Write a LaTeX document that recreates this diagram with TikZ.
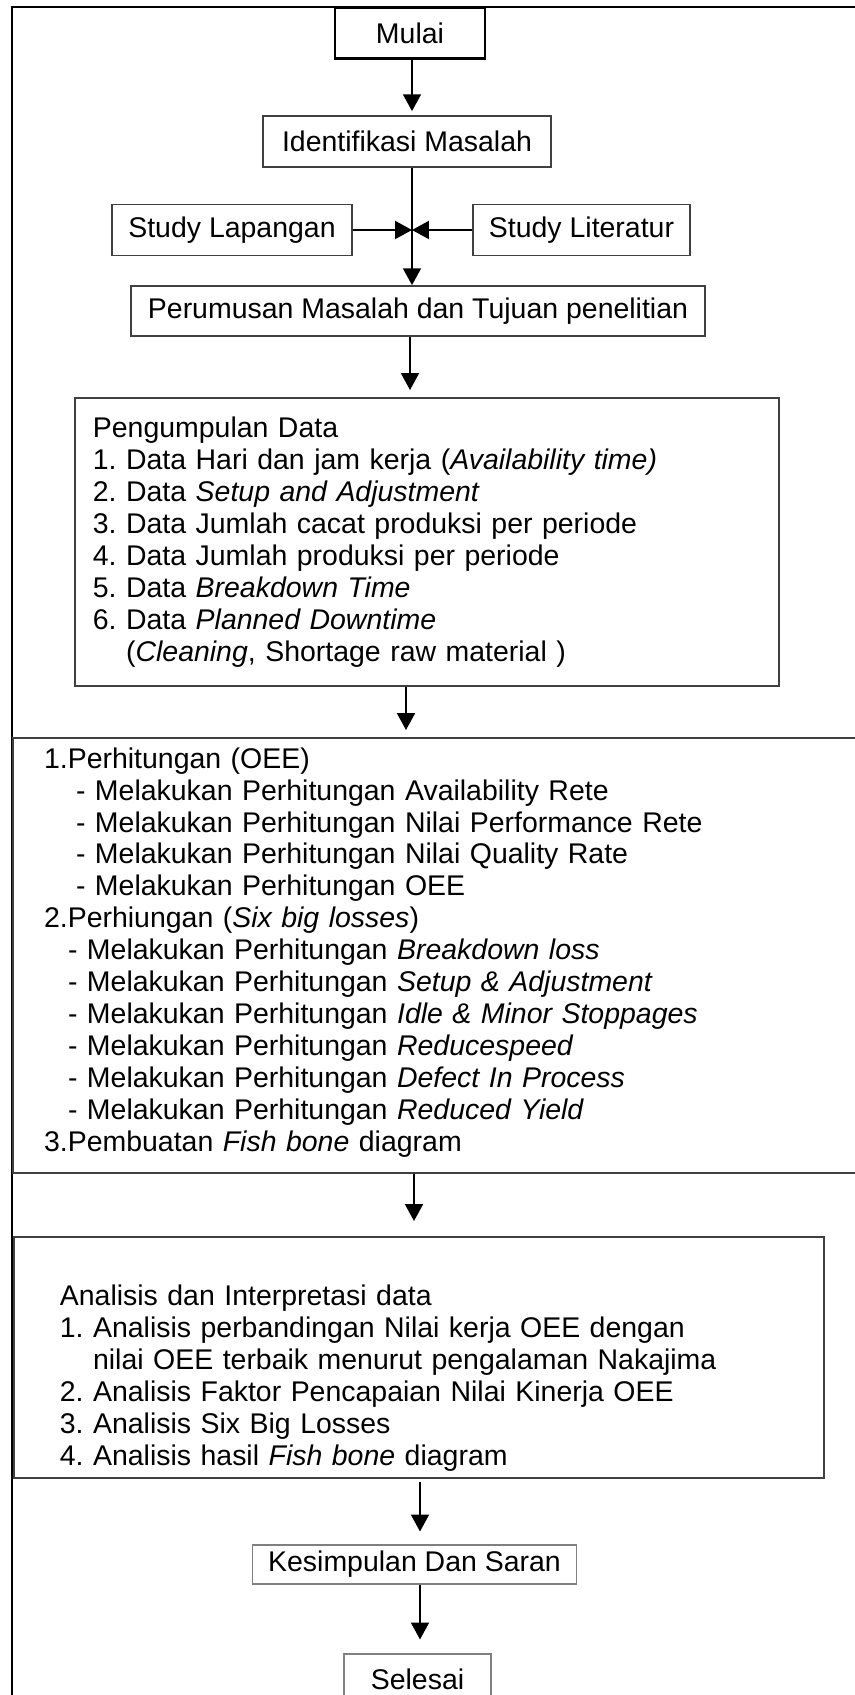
\documentclass[tikz,border=0pt]{standalone}
\usepackage{fontspec}
\setmainfont{Liberation Sans}
\usetikzlibrary{arrows.meta}
\frenchspacing

\begin{document}
\begin{tikzpicture}[
  x=0.02cm, y=-0.02cm,
  every node/.style={font=\fontsize{16.2}{18.2}\selectfont},
  box/.style={rectangle, draw=black!75, line width=1pt, inner sep=0pt},
  thinbox/.style={rectangle, draw=black!50, line width=0.6pt, inner sep=0pt},
  listbox/.style={rectangle, draw=black!75, line width=1pt, anchor=north west,
                  align=left, inner ysep=0pt},
  arrow/.style={-{Triangle[length=9.6pt, width=10.2pt]}, line width=1.1pt},
  frame/.style={line width=0.8pt}
]
\useasboundingbox (0,0) rectangle (855,1695);
\clip (0,0) rectangle (855,1695);

% Outer frame (cut off on the right and at the bottom)
\draw[frame] (12,1720) |- (880,7);

% Start
\node[box, draw=black, line width=1.4pt, minimum width=3cm, minimum height=1.02cm] (mulai) at (410,33) {Mulai};

% Problem identification and studies
\node[box, minimum width=5.76cm, minimum height=1.02cm] (ident) at (407,141.5) {Identifikasi Masalah};
\node[box, minimum width=4.8cm, minimum height=1.02cm] (lapangan) at (232,230) {Study Lapangan};
\node[box, minimum width=4.34cm, minimum height=1.02cm] (literatur) at (581.5,230) {Study Literatur};
\coordinate (junc) at (412,230);

% Problem formulation
\node[box, minimum width=11.48cm, minimum height=1cm] (rumusan) at (418,311) {Perumusan Masalah dan Tujuan penelitian};

% Data collection
\node[listbox, inner xsep=0.36cm, text width=13.36cm, text height=0.8cm, text depth=4.96cm] (kumpul) at (74,397)
  {Pengumpulan Data\\
   1. Data Hari dan jam kerja (\textit{Availability time)}\\
   2. Data \textit{Setup and Adjustment}\\
   3. Data Jumlah cacat produksi per periode\\
   4. Data Jumlah produksi per periode\\
   5. Data \textit{Breakdown Time}\\
   6. Data \textit{Planned Downtime}\\
   \hphantom{6. }(\textit{Cleaning}, Shortage raw material )};

% Calculations
\node[listbox, line width=1.2pt, inner xsep=0.62cm, text width=15.92cm, text height=0.6cm, text depth=8.1cm] (hitung) at (12,737)
  {1.Perhitungan (OEE)\\
   \hspace*{0.64cm}- Melakukan Perhitungan Availability Rete\\
   \hspace*{0.64cm}- Melakukan Perhitungan Nilai Performance Rete\\
   \hspace*{0.64cm}- Melakukan Perhitungan Nilai Quality Rate\\
   \hspace*{0.64cm}- Melakukan Perhitungan OEE\\
   2.Perhiungan (\textit{Six big losses})\\
   \hspace*{0.48cm}- Melakukan Perhitungan \textit{Breakdown loss}\\
   \hspace*{0.48cm}- Melakukan Perhitungan \textit{Setup \& Adjustment}\\
   \hspace*{0.48cm}- Melakukan Perhitungan \textit{Idle \& Minor Stoppages}\\
   \hspace*{0.48cm}- Melakukan Perhitungan \textit{Reducespeed}\\
   \hspace*{0.48cm}- Melakukan Perhitungan \textit{Defect In Process}\\
   \hspace*{0.48cm}- Melakukan Perhitungan \textit{Reduced Yield}\\
   3.Pembuatan \textit{Fish bone} diagram};

% Analysis
\node[listbox, inner xsep=0.92cm, text width=14.36cm, text height=1.38cm, text depth=3.44cm] (analisis) at (13,1236)
  {Analisis dan Interpretasi data\\
   1. Analisis perbandingan Nilai kerja OEE dengan\\
   \hphantom{1. }nilai OEE terbaik menurut pengalaman Nakajima\\
   2. Analisis Faktor Pencapaian Nilai Kinerja OEE\\
   3. Analisis Six Big Losses\\
   4. Analisis hasil \textit{Fish bone} diagram};

% Conclusion and end
\node[thinbox, minimum width=6.5cm, minimum height=0.78cm] (kesimpulan) at (414.5,1564.5) {Kesimpulan Dan Saran};
\node[thinbox, minimum width=2.94cm, minimum height=1cm] (selesai) at (417.5,1679) {Selesai};

% Flow arrows
\draw[arrow, shorten >=0.08cm] (mulai.south -| 412,0) -- (ident.north -| 412,0);
\draw[arrow] (ident.south -| junc) -- (rumusan.north -| junc);
\draw[arrow] (lapangan.east) -- (junc);
\draw[arrow] (literatur.west) -- (junc);
\draw[arrow, shorten >=0.14cm] (rumusan.south -| 410,0) -- (kumpul.north -| 410,0);
\draw[arrow, shorten >=0.14cm] (kumpul.south -| 406,0) -- (hitung.north -| 406,0);
\draw[arrow, shorten >=0.3cm] (hitung.south -| 414,0) -- (analisis.north -| 414,0);
\draw[arrow, shorten <=0.06cm, shorten >=0.26cm] (analisis.south -| 420,0) -- (kesimpulan.north -| 420,0);
\draw[arrow, shorten >=0.28cm] (kesimpulan.south -| 420,0) -- (selesai.north -| 420,0);

\end{tikzpicture}
\end{document}
